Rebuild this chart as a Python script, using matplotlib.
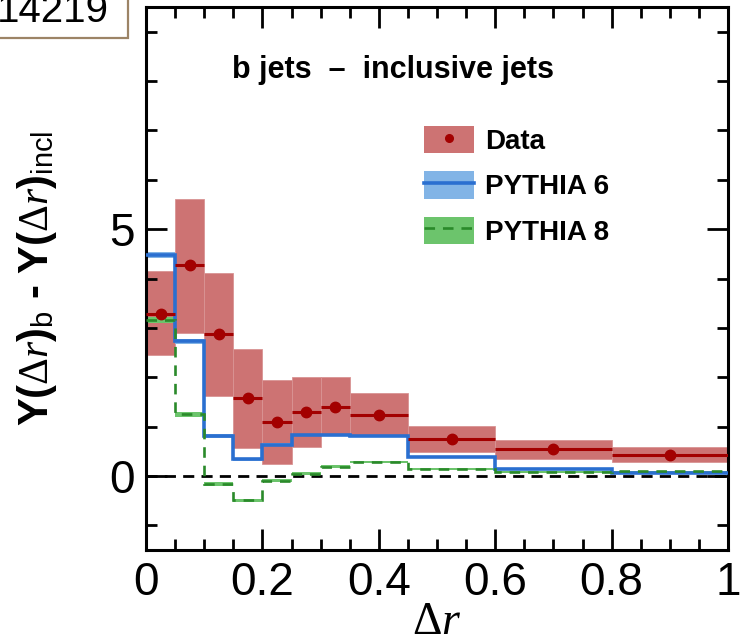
import matplotlib
matplotlib.use("Agg")
import matplotlib.pyplot as plt
from matplotlib.patches import Patch, Rectangle
from matplotlib.lines import Line2D
from matplotlib.ticker import MultipleLocator, FuncFormatter
import numpy as np

plt.rcParams['font.family'] = ['Liberation Sans', 'DejaVu Sans']
plt.rcParams['mathtext.fontset'] = 'custom'
plt.rcParams['mathtext.rm'] = 'Liberation Serif'
plt.rcParams['mathtext.it'] = 'Liberation Serif:italic'
plt.rcParams['mathtext.bf'] = 'Liberation Sans:bold'
plt.rcParams['mathtext.sf'] = 'Liberation Sans'

# Delta r bin edges
bin_edges = [0.0, 0.05, 0.10, 0.15, 0.20, 0.25, 0.30, 0.35, 0.45, 0.60, 0.80, 1.00]

# Measured difference b jets - inclusive jets, with total uncertainty band
data_vals = [3.29, 4.27, 2.87, 1.57, 1.09, 1.29, 1.40, 1.23, 0.75, 0.54, 0.43]
data_hi = [4.15, 5.62, 4.11, 2.58, 1.94, 2.00, 2.00, 1.69, 1.02, 0.72, 0.58]
data_lo = [2.45, 2.90, 1.61, 0.56, 0.24, 0.58, 0.86, 0.83, 0.49, 0.35, 0.28]

# Generator predictions and their statistical uncertainties
pythia6_vals = [4.47, 2.73, 0.81, 0.34, 0.63, 0.83, 0.83, 0.80, 0.39, 0.135, 0.06]
pythia6_err = [0.06, 0.05, 0.04, 0.03, 0.03, 0.03, 0.03, 0.02, 0.02, 0.015, 0.01]
pythia8_vals = [3.16, 1.25, -0.17, -0.49, -0.10, 0.04, 0.19, 0.29, 0.14, 0.08, 0.10]
pythia8_err = [0.06, 0.05, 0.04, 0.03, 0.03, 0.03, 0.03, 0.02, 0.02, 0.015, 0.01]

legend_labels = ["Data", "PYTHIA 6", "PYTHIA 8"]
x_ticks = [0, 0.2, 0.4, 0.6, 0.8, 1.0]

band_red = '#cd7373'
point_red = '#a30000'
line_blue = '#2a6fd0'
band_blue = '#82b4e6'
line_green = '#2a8a2a'
band_green = '#6cc46c'

edges = np.array(bin_edges)
lefts = edges[:-1]
widths = np.diff(edges)
centers = lefts + widths / 2
dv = np.array(data_vals)
dhi = np.array(data_hi)
dlo = np.array(data_lo)
p6 = np.array(pythia6_vals)
p6e = np.array(pythia6_err)
p8 = np.array(pythia8_vals)
p8e = np.array(pythia8_err)

fig = plt.figure(figsize=(7.41, 6.44), dpi=100)
ax = fig.add_axes([146/741, 94/644, 582/741, 543/644])

# data uncertainty boxes
ax.bar(lefts, dhi - dlo, width=widths, bottom=dlo, align='edge',
       color=band_red, edgecolor='#d99494', linewidth=0.6, zorder=1)

# generator bands and step lines
ax.stairs(p6 + p6e, edges, baseline=p6 - p6e, fill=True, color=band_blue, zorder=2)
ax.stairs(p8 + p8e, edges, baseline=p8 - p8e, fill=True, color=band_green, zorder=2)
ax.stairs(p6, edges, baseline=None, color=line_blue, linewidth=2.6, zorder=3)
ax.stairs(p8, edges, baseline=None, color=line_green, linewidth=1.9,
          linestyle=(0, (4, 3)), zorder=3)

# zero reference line
ax.axhline(0, color='black', linewidth=2.0, linestyle=(0, (4, 2.6)), zorder=2.5)

# data points with bin-width bars
ax.errorbar(centers, dv, xerr=widths / 2, fmt='o', color=point_red, ms=7.5,
            elinewidth=2.2, capsize=0, zorder=4)

ax.set_xlim(0, 1)
ax.set_ylim(-1.5, 9.5)
ax.set_xticks(x_ticks)
ax.xaxis.set_minor_locator(MultipleLocator(0.05))
ax.yaxis.set_major_locator(MultipleLocator(5))
ax.yaxis.set_minor_locator(MultipleLocator(1))
ax.xaxis.set_major_formatter(FuncFormatter(lambda v, p: '%g' % v))
ax.tick_params(which='both', direction='in', top=True, right=True, width=2.0,
               labelsize=33)
ax.tick_params(which='major', length=15, pad=8)
ax.tick_params(which='minor', length=8)
for s in ax.spines.values():
    s.set_linewidth(2.2)

ax.set_xlabel(r'$\Delta r$', fontsize=33, labelpad=-4)
ax.set_ylabel(r'Y($\Delta r$)$_\mathsf{b}$ - Y($\Delta r$)$_\mathsf{incl}$',
              fontsize=30, fontweight='bold')
ax.yaxis.set_label_coords(-0.15, 0.5)

ax.text(0.148, 0.884, 'b jets  \u2013  inclusive jets', transform=ax.transAxes,
        fontsize=22, fontweight='bold', va='center', ha='left')

handles = [
    (Patch(facecolor=band_red, edgecolor='none'),
     Line2D([], [], marker='o', color=point_red, ls='none', ms=5.5)),
    (Patch(facecolor=band_blue, edgecolor='none'),
     Line2D([], [], color=line_blue, lw=2.6)),
    (Patch(facecolor=band_green, edgecolor='none'),
     Line2D([], [], color=line_green, lw=1.9, ls=(0, (4, 3)))),
]
leg = ax.legend(handles, legend_labels, loc='upper left',
                bbox_to_anchor=(0.478, 0.781), frameon=False,
                prop={'weight': 'bold', 'size': 20},
                handlelength=1.8, handleheight=1.15, labelspacing=0.58,
                handletextpad=0.4, borderpad=0, borderaxespad=0)

# identifier box in the top-left corner
fig.text(-3/741, 1 - 22/644, '14219', fontsize=29, ha='left', va='baseline')
fig.add_artist(Rectangle((-0.02, (644 - 38)/644), 128/741 + 0.02, 0.1,
                         transform=fig.transFigure, fill=False,
                         edgecolor='#9c8466', linewidth=1.6, clip_on=False))

fig.savefig('out.png', dpi=100)
